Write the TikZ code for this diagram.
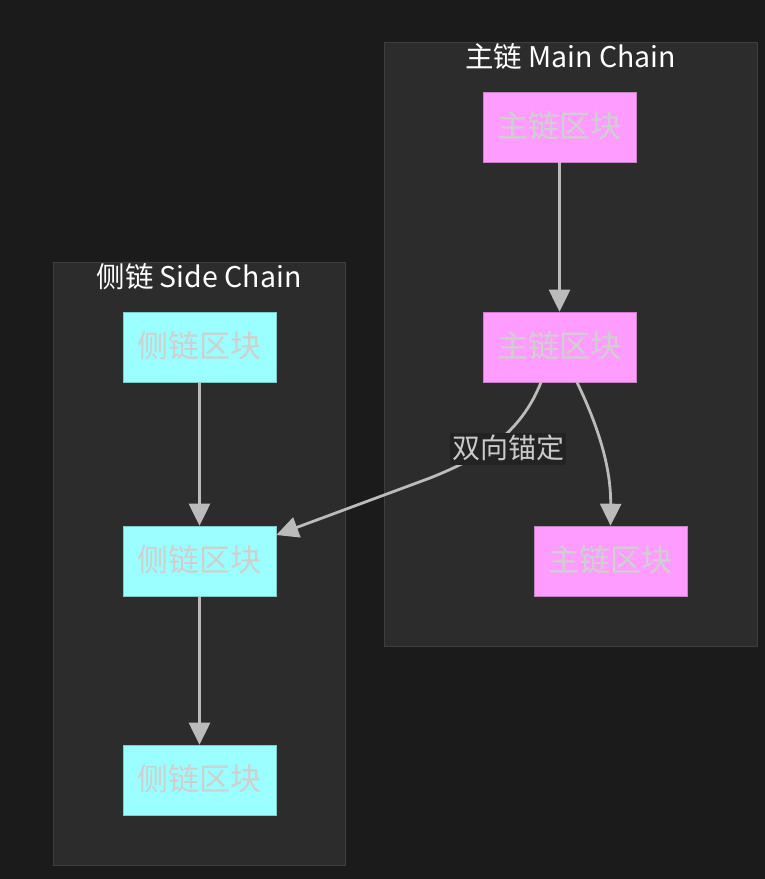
\documentclass[tikz,border=0pt]{standalone}
\usepackage{fontspec}
\setmainfont{Noto Sans CJK SC}
\usetikzlibrary{arrows.meta}
\definecolor{bgc}{HTML}{1B1B1B}
\definecolor{clfill}{HTML}{2C2C2C}
\definecolor{cldraw}{HTML}{3A3F40}
\definecolor{mainc}{HTML}{FF9CFF}
\definecolor{sidec}{HTML}{9CFFFF}
\definecolor{ntext}{HTML}{CFCFCF}
\definecolor{edgec}{HTML}{BBBBBB}
\definecolor{lblbg}{HTML}{232323}
\newcommand{\up}[1]{\raisebox{5pt}{#1}}
\tikzset{
  cluster/.style={draw=cldraw, fill=clfill, line width=1pt},
  ctitle/.style={text=white, font=\fontsize{28.5}{30}\selectfont, inner sep=0pt},
  blk/.style={minimum width=153pt, minimum height=70pt, inner sep=0pt, text=ntext, font=\fontsize{31}{33}\selectfont},
  mainblk/.style={blk, fill=mainc, draw=mainc!80!black, line width=0.6pt},
  sideblk/.style={blk, fill=sidec, draw=sidec!80!black, line width=0.6pt},
  edge/.style={draw=edgec, line width=2.8pt, -{Triangle[length=22pt,width=21pt]}},
  elabel/.style={fill=lblbg, text=ntext!110, font=\fontsize{28}{30}\selectfont, inner sep=2pt}
}
\begin{document}
\begin{tikzpicture}[x=1pt,y=-1pt]
\fill[bgc] (0,0) rectangle (765,879);
\useasboundingbox (0,0) rectangle (765,879);
% clusters
\draw[cluster] (384,42) rectangle (757,646);
\draw[cluster] (53,262) rectangle (345,865);
\node[ctitle] (tmain) at (570.5,58) {\up{主链 Main Chain}};
\node[ctitle] (tside) at (199,278) {\up{侧链 Side Chain}};
% nodes
\node[mainblk] (m1) at (559.5,127) {\up{主链区块}};
\node[mainblk] (m2) at (559.5,347) {\up{主链区块}};
\node[mainblk] (m3) at (610.5,561) {\up{主链区块}};
\node[sideblk] (s1) at (199.5,347) {\up{侧链区块}};
\node[sideblk] (s2) at (199.5,561) {\up{侧链区块}};
\node[sideblk] (s3) at (199.5,780) {\up{侧链区块}};
% edges
\draw[edge] (m1.south) -- (m2.north);
\draw[edge] ([xshift=17.5pt]m2.south) .. controls (600,430) and (611,470) .. (m3.north);
\draw[edge] ([xshift=-18.5pt]m2.south) .. controls (520,435) and (480,458) .. (430,478) -- ([yshift=26pt]s2.east);
\node[elabel] (lbl) at (508,449) {\up{双向锚定}};
\draw[edge] (s1.south) -- (s2.north);
\draw[edge] (s2.south) -- (s3.north);
\end{tikzpicture}
\end{document}
